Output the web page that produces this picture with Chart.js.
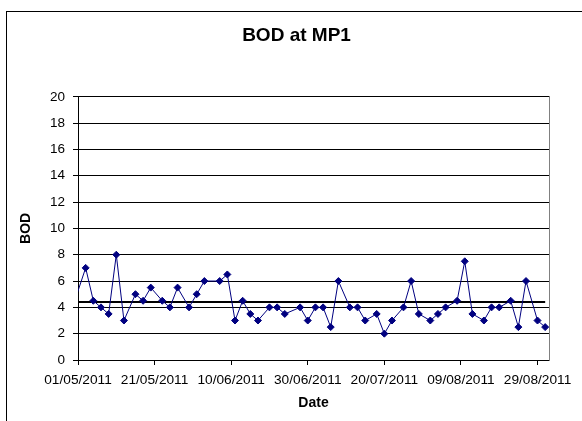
<!DOCTYPE html>
<html lang="en">
<head>
  <meta charset="UTF-8" />
  <title>BOD at MP1</title>

  <!-- Chart.js -->
  <script src="https://cdn.jsdelivr.net/npm/chart.js"></script>

  <style>
    body { margin: 0; background: #fff; overflow: hidden; }
    #frame { position: absolute; left: 6px; top: 11px; width: 700px; height: 500px; border: 1px solid #000; }
    #bodChart { position: absolute; left: 0; top: 0; }
  </style>
</head>
<body>

  <div id="frame"></div>
  <canvas id="bodChart" width="582" height="421"></canvas>

  <script>
    // sample dates (dd/mm/yyyy) and BOD values
    const sampleDates = [
      '29/04/2011', '03/05/2011', '05/05/2011', '07/05/2011', '09/05/2011', '11/05/2011',
      '13/05/2011', '16/05/2011', '18/05/2011', '20/05/2011', '23/05/2011', '25/05/2011',
      '27/05/2011', '30/05/2011', '01/06/2011', '03/06/2011', '07/06/2011', '09/06/2011',
      '11/06/2011', '13/06/2011', '15/06/2011', '17/06/2011', '20/06/2011', '22/06/2011',
      '24/06/2011', '28/06/2011', '30/06/2011', '02/07/2011', '04/07/2011', '06/07/2011',
      '08/07/2011', '11/07/2011', '13/07/2011', '15/07/2011', '18/07/2011', '20/07/2011',
      '22/07/2011', '25/07/2011', '27/07/2011', '29/07/2011', '01/08/2011', '03/08/2011',
      '05/08/2011', '08/08/2011', '10/08/2011', '12/08/2011', '15/08/2011', '17/08/2011',
      '19/08/2011', '22/08/2011', '24/08/2011', '26/08/2011', '29/08/2011', '31/08/2011'
    ];
    const bodValues = [
      3.5, 7, 4.5, 4, 3.5, 8,
      3, 5, 4.5, 5.5, 4.5, 4,
      5.5, 4, 5, 6, 6, 6.5,
      3, 4.5, 3.5, 3, 4, 4,
      3.5, 4, 3, 4, 4, 2.5,
      6, 4, 4, 3, 3.5, 2,
      3, 4, 6, 3.5, 3, 3.5,
      4, 4.5, 7.5, 3.5, 3, 4,
      4, 4.5, 2.5, 6, 3, 2.5
    ];
    // horizontal reference line
    const refLevel = 4.4;

    // axis
    const xTickLabels = ['01/05/2011', '21/05/2011', '10/06/2011', '30/06/2011', '20/07/2011', '09/08/2011', '29/08/2011'];
    const xMinDate = '01/05/2011';
    const xMaxDate = '01/09/2011';
    const yTicks = [0, 2, 4, 6, 8, 10, 12, 14, 16, 18, 20];

    const toDay = s => {
      const [d, m, y] = s.split('/').map(Number);
      return Date.UTC(y, m - 1, d) / 864e5;
    };
    const fmtDay = v => {
      const dt = new Date(v * 864e5);
      const p = n => String(n).padStart(2, '0');
      return p(dt.getUTCDate()) + '/' + p(dt.getUTCMonth() + 1) + '/' + dt.getUTCFullYear();
    };

    const points = sampleDates.map((s, i) => ({ x: toDay(s), y: bodValues[i] }));
    const refPoints = [
      { x: toDay(sampleDates[0]), y: refLevel },
      { x: toDay(sampleDates[sampleDates.length - 1]), y: refLevel }
    ];

    Chart.defaults.font.family = 'Arial, "Liberation Sans", sans-serif';
    Chart.defaults.color = '#000';

    new Chart(document.getElementById('bodChart'), {
      type: 'line',
      data: {
        datasets: [
          {
            label: 'BOD',
            data: points,
            borderColor: '#000080',
            backgroundColor: '#000080',
            borderWidth: 1,
            pointStyle: 'rectRot',
            pointRadius: 3.5,
            pointBorderWidth: 1,
            tension: 0
          },
          {
            label: 'Reference',
            data: refPoints,
            borderColor: '#000',
            borderWidth: 2,
            pointRadius: 0
          }
        ]
      },
      options: {
        responsive: false,
        animation: false,
        layout: { padding: { left: 11, right: 0, top: 0, bottom: 0 } },
        plugins: {
          legend: { display: false },
          tooltip: { enabled: false },
          title: {
            display: true,
            text: 'BOD at MP1',
            font: { size: 19, weight: 'bold' },
            padding: { top: 24, bottom: 50 }
          }
        },
        scales: {
          x: {
            type: 'linear',
            min: toDay(xMinDate),
            max: toDay(xMaxDate),
            afterBuildTicks: s => { s.ticks = xTickLabels.map(t => ({ value: toDay(t) })); },
            afterFit: s => { s.height = 61; },
            ticks: {
              autoSkip: false,
              maxRotation: 0,
              padding: 7,
              font: { size: 13.7 },
              callback: v => fmtDay(v)
            },
            grid: { drawOnChartArea: false, tickLength: 5, color: '#000' },
            border: { color: '#000' },
            title: {
              display: true,
              text: 'Date',
              font: { size: 14, weight: 'bold' },
              padding: { top: 0, bottom: 9 }
            }
          },
          y: {
            min: 0,
            max: 20,
            afterBuildTicks: s => { s.ticks = yTicks.map(v => ({ value: v })); },
            afterFit: s => { s.width = 67; },
            ticks: { padding: 8, font: { size: 13.5 } },
            grid: { color: '#000', tickLength: 5 },
            border: { color: '#000' },
            title: {
              display: true,
              text: 'BOD',
              font: { size: 14, weight: 'bold' },
              padding: { top: 7, bottom: 0 }
            }
          },
          yRight: {
            position: 'right',
            display: true,
            min: 0,
            max: 20,
            afterFit: s => { s.width = 33; },
            ticks: { display: false },
            grid: { drawOnChartArea: false, drawTicks: false },
            border: { color: '#808080' }
          }
        }
      }
    });
  </script>
</body>
</html>
